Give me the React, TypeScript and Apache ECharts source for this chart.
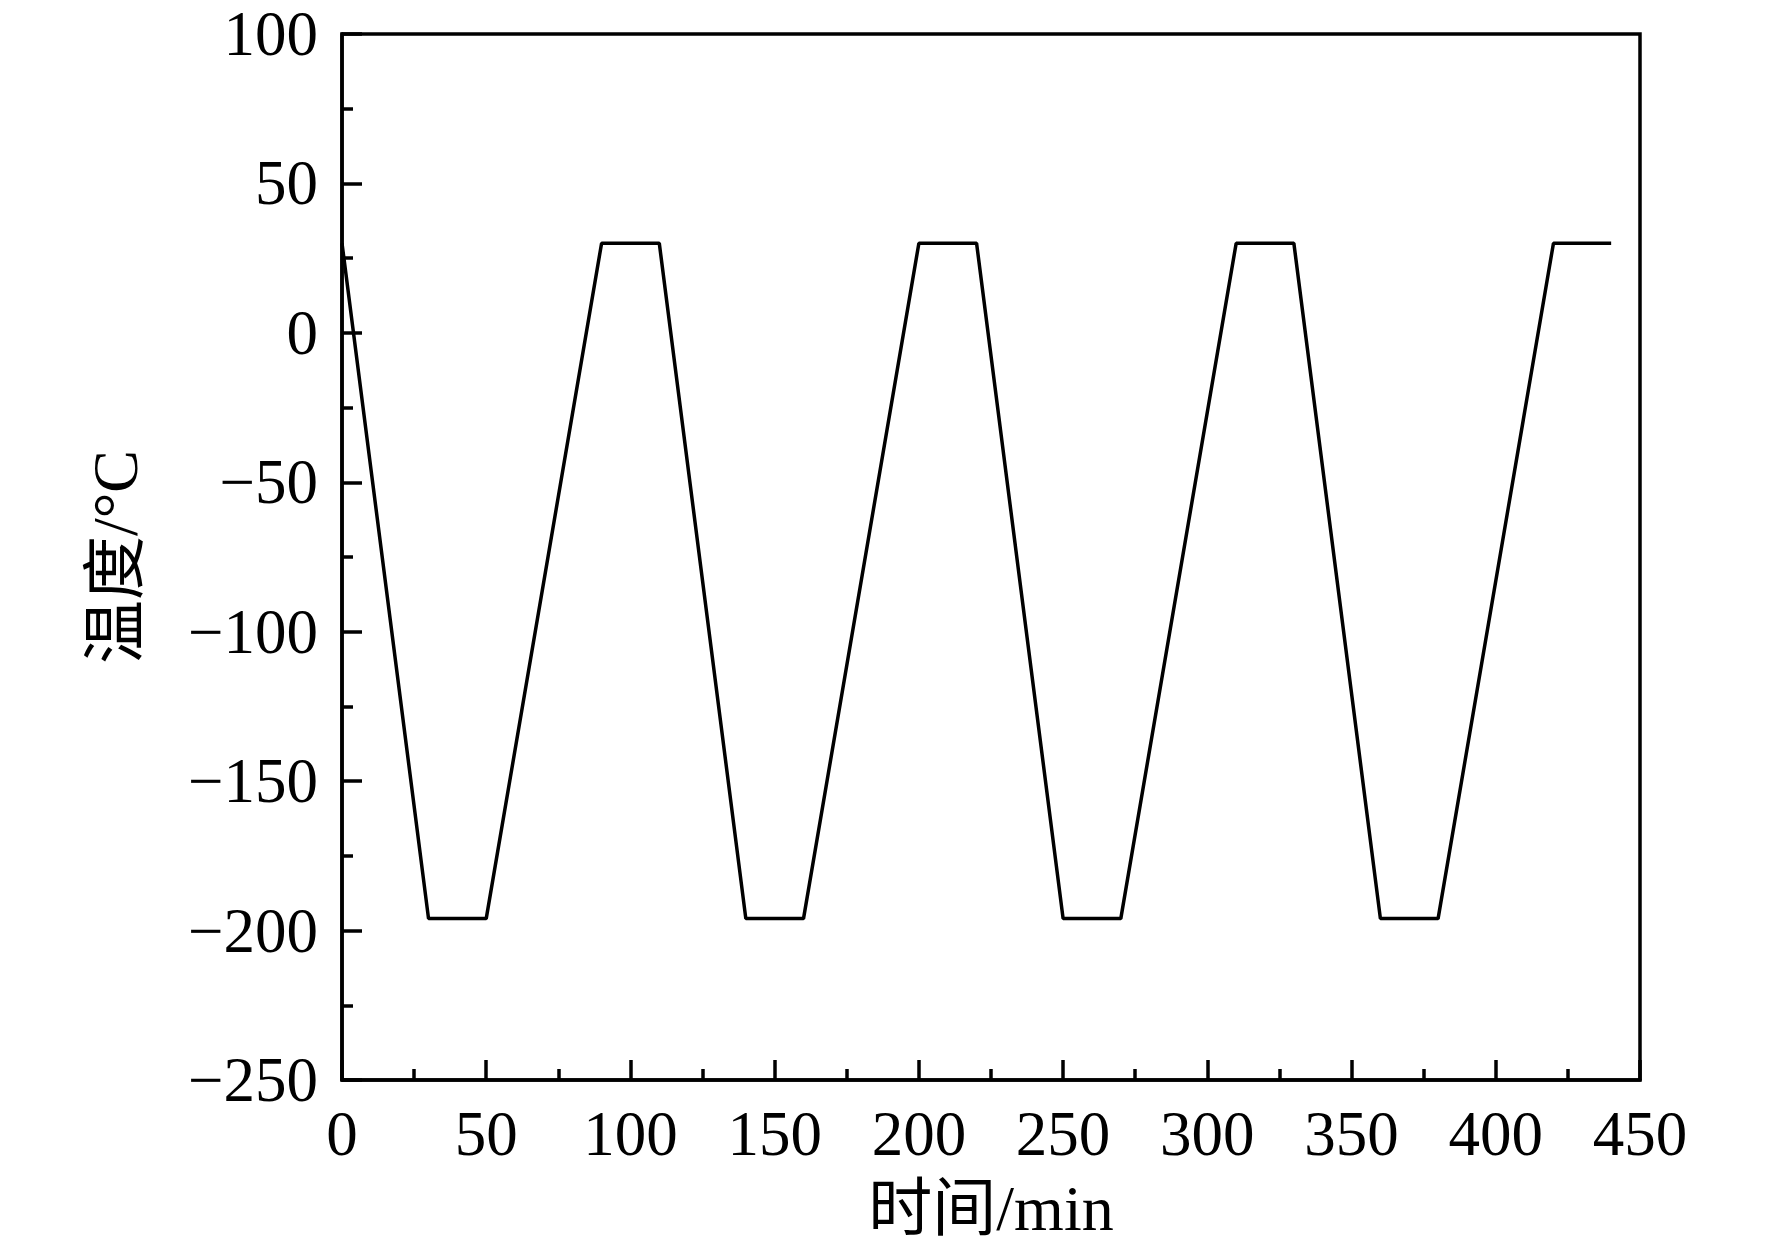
import React, { useEffect, useRef } from "react";
import * as echarts from "echarts";

const times = [0, 30, 50, 90, 110, 140, 160, 200, 220, 250, 270, 310, 330, 360, 380, 420, 440];
const temps = [30, -196, -196, 30, 30, -196, -196, 30, 30, -196, -196, 30, 30, -196, -196, 30, 30];
const xName = "时间/min";
const yName = "温度/°C";

const FONT = "'Liberation Serif', 'Times New Roman', 'Noto Sans CJK SC', serif";

export default function App() {
  const ref = useRef<HTMLDivElement>(null);
  useEffect(() => {
    if (!ref.current) return;
    const chart = echarts.init(ref.current, undefined, { renderer: "svg" });
    const data = times.map((t, i) => [t, temps[i]]);
    chart.setOption({
      animation: false,
      backgroundColor: "#ffffff",
      grid: {
        left: 342,
        top: 34,
        right: 132,
        bottom: 175,
        show: true,
        borderColor: "#000",
        borderWidth: 3.5,
        backgroundColor: "transparent",
      },
      xAxis: {
        type: "value",
        min: 0,
        max: 450,
        interval: 50,
        name: xName,
        nameLocation: "middle",
        nameGap: 96,
        nameTextStyle: { fontFamily: FONT, fontSize: 64, color: "#000" },
        axisLine: { show: true, onZero: false, lineStyle: { color: "#000", width: 3.5 } },
        axisTick: { show: true, inside: true, length: 20, lineStyle: { color: "#000", width: 3.5 } },
        minorTick: { show: true, splitNumber: 2, length: 11, lineStyle: { color: "#000", width: 3.5 } },
        splitLine: { show: false },
        axisLabel: { fontFamily: FONT, fontSize: 63, color: "#000", margin: 22 },
      },
      yAxis: {
        type: "value",
        min: -250,
        max: 100,
        interval: 50,
        name: yName,
        nameLocation: "middle",
        nameGap: 195,
        nameRotate: 90,
        nameTextStyle: { fontFamily: FONT, fontSize: 64, color: "#000" },
        axisLine: { show: true, onZero: false, lineStyle: { color: "#000", width: 3.5 } },
        axisTick: { show: true, inside: true, length: 20, lineStyle: { color: "#000", width: 3.5 } },
        minorTick: { show: true, splitNumber: 2, length: 11, lineStyle: { color: "#000", width: 3.5 } },
        splitLine: { show: false },
        axisLabel: {
          fontFamily: FONT,
          fontSize: 63,
          color: "#000",
          margin: 24,
          formatter: (v: number) => String(v).replace("-", "\u2212"),
        },
      },
      series: [
        {
          type: "line",
          data,
          symbol: "none",
          lineStyle: { color: "#000", width: 3.5 },
        },
      ],
    });
    return () => chart.dispose();
  }, []);
  return (
    <div
      ref={ref}
      style={{ position: "fixed", left: 0, top: 0, width: 1772, height: 1255, background: "#fff" }}
    />
  );
}
